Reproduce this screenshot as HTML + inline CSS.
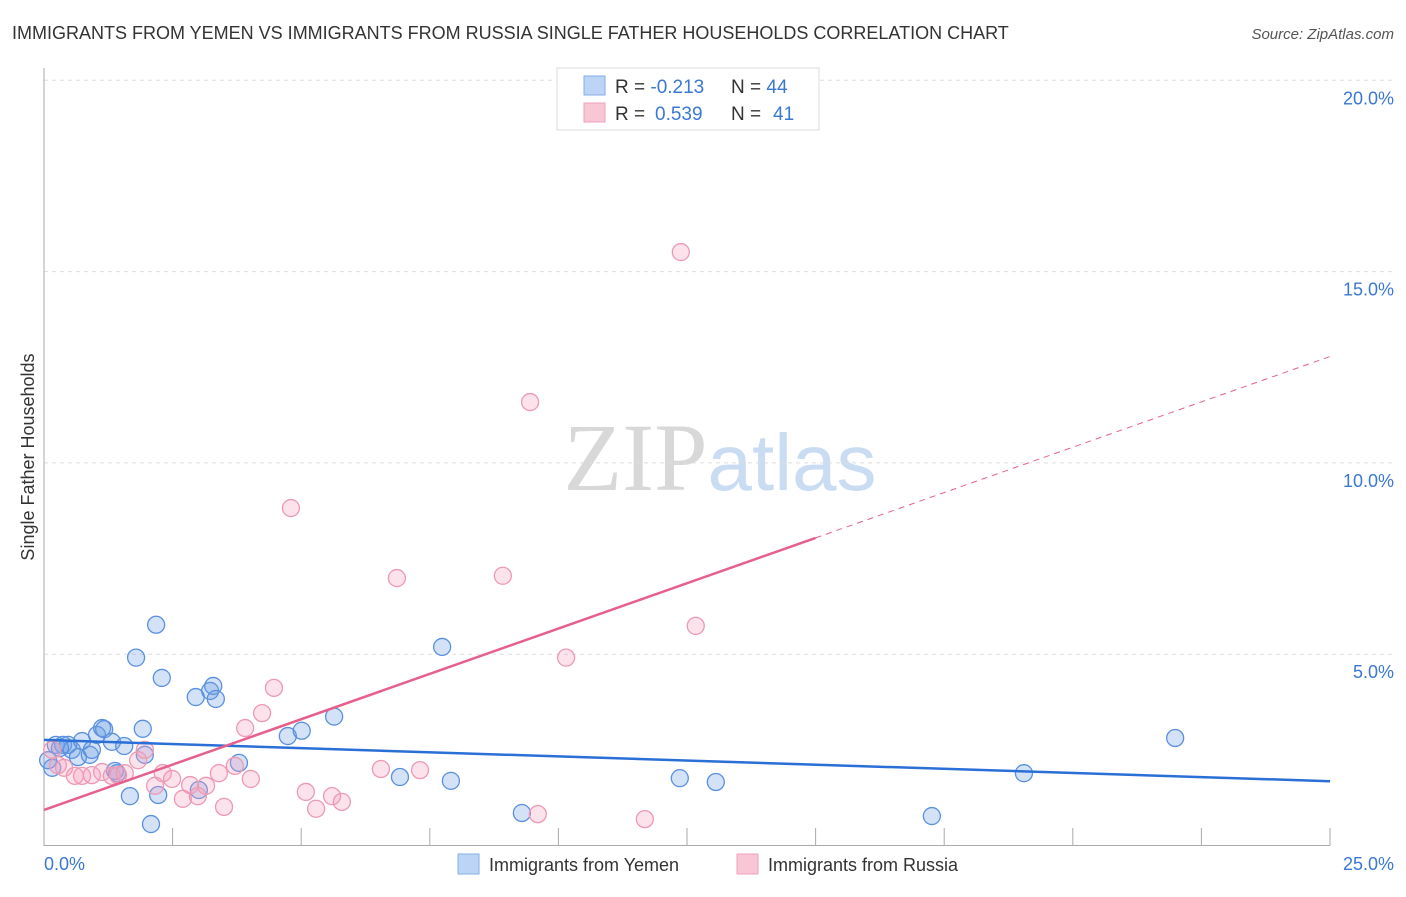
<!DOCTYPE html>
<html><head><meta charset="utf-8"><style>
body{margin:0;background:#fff;font-family:"Liberation Sans",sans-serif}
</style></head><body>
<svg id="chart" width="1406" height="892" xmlns="http://www.w3.org/2000/svg" font-family="Liberation Sans, sans-serif">
<text x="12" y="39" font-size="18" fill="#333">IMMIGRANTS FROM YEMEN VS IMMIGRANTS FROM RUSSIA SINGLE FATHER HOUSEHOLDS CORRELATION CHART</text>
<text x="1394" y="39" font-size="15" fill="#555" text-anchor="end" font-style="italic">Source: ZipAtlas.com</text>
<text x="720" y="490" font-size="96" text-anchor="middle"><tspan font-family="Liberation Serif, serif" fill="#d8d8d8">ZIP</tspan><tspan fill="#c9dcf2" font-size="80">atlas</tspan></text>
<g id="grid"></g>
<line x1="44" y1="68" x2="44" y2="846" stroke="#aaa"/>
<line x1="44" y1="845.5" x2="1330" y2="845.5" stroke="#aaa"/>
<g id="xticks"></g><g id="ylabels"></g>
<text transform="translate(34,457) rotate(-90)" font-size="18" fill="#333" text-anchor="middle">Single Father Households</text>
<text x="44" y="870" font-size="18" fill="#3a78d4">0.0%</text>
<text x="1394" y="870" font-size="18" fill="#3a78d4" text-anchor="end">25.0%</text>
<g id="points"></g><g id="lines"></g>
<g>
<rect x="557" y="68" width="262" height="62" fill="#fff" stroke="#ddd"/>
<rect x="584" y="76" width="21" height="19" fill="#bcd4f6" stroke="#86aee8"/>
<rect x="584" y="103" width="21" height="19" fill="#f9c6d6" stroke="#eea0b9"/>
<text x="615" y="93" font-size="19" fill="#333">R = <tspan fill="#3a78d4">-0.213</tspan><tspan x="731">N = </tspan><tspan fill="#3a78d4">44</tspan></text>
<text x="615" y="120" font-size="19" fill="#333">R = <tspan fill="#3a78d4" x="655">0.539</tspan><tspan x="731">N = </tspan><tspan fill="#3a78d4" x="773">41</tspan></text>
</g>
<g>
<rect x="458" y="854" width="21" height="20" fill="#bcd4f6" stroke="#86aee8"/>
<text x="489" y="871" font-size="18" fill="#333">Immigrants from Yemen</text>
<rect x="737" y="854" width="21" height="20" fill="#f9c6d6" stroke="#eea0b9"/>
<text x="768" y="871" font-size="18" fill="#333">Immigrants from Russia</text>
</g>
</svg>
<script>
const yemenX=[0.16,0.23,0.37,0.47,0.54,0.66,0.74,0.89,0.93,1.03,1.13,1.17,1.32,1.42,1.56,1.67,1.92,2.08,1.79,2.18,2.29,2.22,2.95,3.23,3.29,3.34,3.01,3.79,4.74,5.01,5.64,6.92,7.74,7.91,9.29,12.36,13.06,17.26,19.05,21.99,0.08,0.31,1.38,1.96];
const yemenY=[2.03,2.63,2.63,2.63,2.50,2.31,2.73,2.37,2.50,2.89,3.07,3.04,2.71,1.89,2.60,1.29,3.05,0.56,4.91,5.77,4.38,1.32,3.88,4.04,4.17,3.83,1.45,2.16,2.86,3.00,3.37,1.79,5.19,1.69,0.85,1.76,1.66,0.77,1.89,2.81,2.23,2.55,1.95,2.37];
const russiaX=[0.16,0.27,0.39,0.60,0.74,0.93,1.13,1.32,1.44,1.57,1.83,1.96,2.16,2.31,2.49,2.70,2.84,2.99,3.15,3.40,3.50,3.71,3.91,4.02,4.24,4.47,4.80,5.09,5.29,5.60,5.79,6.55,6.86,7.31,8.92,9.45,9.60,10.15,11.68,12.38,12.67];
const russiaY=[2.50,2.10,2.03,1.82,1.82,1.84,1.92,1.82,1.84,1.89,2.23,2.50,1.56,1.89,1.74,1.22,1.58,1.29,1.56,1.89,1.01,2.08,3.07,1.74,3.46,4.12,8.82,1.40,0.96,1.29,1.14,2.00,6.99,1.97,7.05,11.59,0.82,4.91,0.69,15.51,5.74];
const yTicks=[5,10,15,20];
const xTicks=[0,2.5,5,7.5,10,12.5,15,17.5,20,22.5,25];
const yemenFit=[2.76,1.68];
const russiaFit=[0.93,12.78];
const russiaSolidEnd=15;
const NS="http://www.w3.org/2000/svg";
const sx=v=>44+v*51.44, sy=v=>845.5-v*38.26;
function mk(tag,attrs,parent){const e=document.createElementNS(NS,tag);for(const k in attrs)e.setAttribute(k,attrs[k]);parent.appendChild(e);return e;}
const grid=document.getElementById('grid'),yl=document.getElementById('ylabels'),xt=document.getElementById('xticks');
yTicks.forEach(t=>{
 const l=mk('line',{x1:44,x2:1394,y1:sy(t),y2:sy(t),stroke:'#ddd','stroke-dasharray':'4,4'},grid);
 
 
 const tx=mk('text',{x:1394,y:sy(t)+24,'font-size':18,fill:'#3a78d4','text-anchor':'end'},yl);
 tx.textContent=t.toFixed(1)+'%';
 
 
});
xTicks.forEach(t=>{
 const l=mk('line',{x1:sx(t),x2:sx(t),y1:828,y2:846,stroke:'#aaa'},xt);
 
 
});
const pts=document.getElementById('points');
yemenX.forEach((x,i)=>{
 const c=mk('circle',{cx:sx(x),cy:sy(yemenY[i]),r:8.5,fill:'rgba(110,160,230,0.3)',stroke:'#5b90e0','stroke-width':1.3},pts);
 
 
});
russiaX.forEach((x,i)=>{
 const c=mk('circle',{cx:sx(x),cy:sy(russiaY[i]),r:8.5,fill:'rgba(245,160,190,0.3)',stroke:'#ec9ab4','stroke-width':1.3},pts);
 
 
});
const ln=document.getElementById('lines');
const yl1=mk('line',{x1:sx(0),y1:sy(yemenFit[0]),x2:sx(25),y2:sy(yemenFit[1]),stroke:'#2a6fd6','stroke-width':2.5},ln);


const rAt=x=>russiaFit[0]+(russiaFit[1]-russiaFit[0])*x/25;
const rl=mk('line',{x1:sx(0),y1:sy(rAt(0)),x2:sx(russiaSolidEnd),y2:sy(rAt(russiaSolidEnd)),stroke:'#e6608c','stroke-width':2.5},ln);


const rd=mk('line',{x1:sx(russiaSolidEnd),y1:sy(rAt(russiaSolidEnd)),x2:sx(25),y2:sy(rAt(25)),stroke:'#e6608c','stroke-width':1,'stroke-dasharray':'6,5'},ln);


</script>
</body></html>
